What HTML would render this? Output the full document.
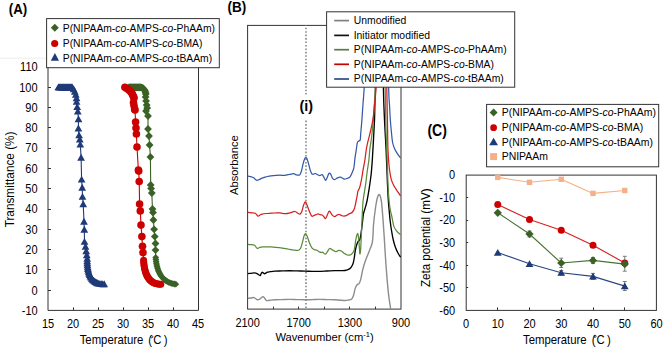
<!DOCTYPE html>
<html><head><meta charset="utf-8"><style>
html,body{margin:0;padding:0;background:#fff;}
body{width:669px;height:349px;overflow:hidden;font-family:"Liberation Sans", sans-serif;}
svg{display:block;}
</style></head><body>
<svg width="669" height="349" viewBox="0 0 669 349" font-family='"Liberation Sans", sans-serif'>
<rect width="669" height="349" fill="#fff"/>
<line x1="0.00" y1="58.20" x2="46.00" y2="58.20" stroke="#ececec" stroke-width="1" />
<path d="M48.0,66.90V310.4H198.5V66.90" fill="none" stroke="#333333" stroke-width="1"/>
<text transform="translate(37.60,314.80) scale(1,1.08)" font-size="11.0" text-anchor="end" font-weight="normal" fill="#000" >-10</text>
<line x1="48.00" y1="290.50" x2="51.00" y2="290.50" stroke="#333333" stroke-width="1" />
<text transform="translate(37.60,294.50) scale(1,1.08)" font-size="11.0" text-anchor="end" font-weight="normal" fill="#000" >0</text>
<line x1="48.00" y1="269.50" x2="51.00" y2="269.50" stroke="#333333" stroke-width="1" />
<text transform="translate(37.60,274.20) scale(1,1.08)" font-size="11.0" text-anchor="end" font-weight="normal" fill="#000" >10</text>
<line x1="48.00" y1="249.50" x2="51.00" y2="249.50" stroke="#333333" stroke-width="1" />
<text transform="translate(37.60,253.90) scale(1,1.08)" font-size="11.0" text-anchor="end" font-weight="normal" fill="#000" >20</text>
<line x1="48.00" y1="229.50" x2="51.00" y2="229.50" stroke="#333333" stroke-width="1" />
<text transform="translate(37.60,233.60) scale(1,1.08)" font-size="11.0" text-anchor="end" font-weight="normal" fill="#000" >30</text>
<line x1="48.00" y1="209.50" x2="51.00" y2="209.50" stroke="#333333" stroke-width="1" />
<text transform="translate(37.60,213.30) scale(1,1.08)" font-size="11.0" text-anchor="end" font-weight="normal" fill="#000" >40</text>
<line x1="48.00" y1="188.50" x2="51.00" y2="188.50" stroke="#333333" stroke-width="1" />
<text transform="translate(37.60,193.00) scale(1,1.08)" font-size="11.0" text-anchor="end" font-weight="normal" fill="#000" >50</text>
<line x1="48.00" y1="168.50" x2="51.00" y2="168.50" stroke="#333333" stroke-width="1" />
<text transform="translate(37.60,172.70) scale(1,1.08)" font-size="11.0" text-anchor="end" font-weight="normal" fill="#000" >60</text>
<line x1="48.00" y1="148.50" x2="51.00" y2="148.50" stroke="#333333" stroke-width="1" />
<text transform="translate(37.60,152.40) scale(1,1.08)" font-size="11.0" text-anchor="end" font-weight="normal" fill="#000" >70</text>
<line x1="48.00" y1="127.50" x2="51.00" y2="127.50" stroke="#333333" stroke-width="1" />
<text transform="translate(37.60,132.10) scale(1,1.08)" font-size="11.0" text-anchor="end" font-weight="normal" fill="#000" >80</text>
<line x1="48.00" y1="107.50" x2="51.00" y2="107.50" stroke="#333333" stroke-width="1" />
<text transform="translate(37.60,111.80) scale(1,1.08)" font-size="11.0" text-anchor="end" font-weight="normal" fill="#000" >90</text>
<line x1="48.00" y1="87.50" x2="51.00" y2="87.50" stroke="#333333" stroke-width="1" />
<text transform="translate(37.60,91.50) scale(1,1.08)" font-size="11.0" text-anchor="end" font-weight="normal" fill="#000" >100</text>
<line x1="48.00" y1="66.50" x2="51.00" y2="66.50" stroke="#333333" stroke-width="1" />
<text transform="translate(37.60,71.20) scale(1,1.08)" font-size="11.0" text-anchor="end" font-weight="normal" fill="#000" >110</text>
<text transform="translate(48.00,328.00) scale(1,1.08)" font-size="11.0" text-anchor="middle" font-weight="normal" fill="#000" >15</text>
<line x1="73.50" y1="310.40" x2="73.50" y2="307.40" stroke="#333333" stroke-width="1" />
<text transform="translate(73.00,328.00) scale(1,1.08)" font-size="11.0" text-anchor="middle" font-weight="normal" fill="#000" >20</text>
<line x1="98.50" y1="310.40" x2="98.50" y2="307.40" stroke="#333333" stroke-width="1" />
<text transform="translate(98.00,328.00) scale(1,1.08)" font-size="11.0" text-anchor="middle" font-weight="normal" fill="#000" >25</text>
<line x1="123.50" y1="310.40" x2="123.50" y2="307.40" stroke="#333333" stroke-width="1" />
<text transform="translate(123.00,328.00) scale(1,1.08)" font-size="11.0" text-anchor="middle" font-weight="normal" fill="#000" >30</text>
<line x1="148.50" y1="310.40" x2="148.50" y2="307.40" stroke="#333333" stroke-width="1" />
<text transform="translate(148.00,328.00) scale(1,1.08)" font-size="11.0" text-anchor="middle" font-weight="normal" fill="#000" >35</text>
<line x1="173.50" y1="310.40" x2="173.50" y2="307.40" stroke="#333333" stroke-width="1" />
<text transform="translate(173.00,328.00) scale(1,1.08)" font-size="11.0" text-anchor="middle" font-weight="normal" fill="#000" >40</text>
<text transform="translate(198.00,328.00) scale(1,1.08)" font-size="11.0" text-anchor="middle" font-weight="normal" fill="#000" >45</text>
<text transform="translate(14.00,179.40) rotate(-90) scale(1,1.08)" font-size="11.8" text-anchor="middle">Transmittance (%)</text>
<text transform="translate(79.7,344.0) scale(1,1.05)" font-size="11.35">Temperature<tspan dx="5.0">(</tspan><tspan dx="1.1">C</tspan><tspan dx="2.3">)</tspan></text>
<circle cx="151.70" cy="336.70" r="1.1" fill="none" stroke="#000" stroke-width="0.75"/>
<text transform="translate(8.80,14.20) scale(1,1.15)" font-size="13.3" text-anchor="start" font-weight="bold" fill="#000" >(A)</text>
<polyline points="58.4,87.2 59.0,87.2 59.6,87.2 60.2,87.2 60.8,87.2 61.4,87.2 62.0,87.2 62.6,87.2 63.2,87.2 63.8,87.2 64.4,87.2 65.0,87.2 65.6,87.2 66.2,87.2 66.8,87.2 67.4,87.2 68.0,87.2 68.6,87.2 69.2,87.2 69.8,87.2 70.4,87.2 71.0,87.2 71.6,87.2 72.2,87.2 73.6,89.0 74.8,91.5 75.8,94.5 76.5,98.0 76.6,101.7 77.2,106.8 77.8,111.3 78.5,119.1 78.4,128.3 79.1,135.2 79.8,139.3 80.3,144.4 81.1,157.6 81.6,179.4 82.2,187.5 82.5,196.7 83.2,204.0 84.0,221.6 84.3,229.6 84.5,241.7 85.5,246.5 86.2,251.0 86.8,255.0 87.2,258.6 87.2,261.0 87.3,263.1 87.4,265.1 87.7,267.0 87.9,268.8 88.3,270.4 88.7,272.0 89.2,273.5 89.7,274.9 90.3,276.2 91.0,277.4 91.8,278.5 92.6,279.5 93.4,280.4 94.4,281.2 95.4,281.9 96.4,282.5 97.6,283.0 98.8,283.4 100.0,283.7 101.3,283.9 102.7,284.0 104.2,284.0" fill="none" stroke="#1F3A78" stroke-width="1.1" stroke-linejoin="round" stroke-linecap="round" />
<path d="M58.40,83.47L62.25,90.37L54.55,90.37Z" fill="#1F3A78"/>
<path d="M59.00,83.47L62.85,90.37L55.15,90.37Z" fill="#1F3A78"/>
<path d="M59.60,83.47L63.45,90.37L55.75,90.37Z" fill="#1F3A78"/>
<path d="M60.20,83.47L64.05,90.37L56.35,90.37Z" fill="#1F3A78"/>
<path d="M60.80,83.47L64.65,90.37L56.95,90.37Z" fill="#1F3A78"/>
<path d="M61.40,83.47L65.25,90.37L57.55,90.37Z" fill="#1F3A78"/>
<path d="M62.00,83.47L65.85,90.37L58.15,90.37Z" fill="#1F3A78"/>
<path d="M62.60,83.47L66.45,90.37L58.75,90.37Z" fill="#1F3A78"/>
<path d="M63.20,83.47L67.05,90.37L59.35,90.37Z" fill="#1F3A78"/>
<path d="M63.80,83.47L67.65,90.37L59.95,90.37Z" fill="#1F3A78"/>
<path d="M64.40,83.47L68.25,90.37L60.55,90.37Z" fill="#1F3A78"/>
<path d="M65.00,83.47L68.85,90.37L61.15,90.37Z" fill="#1F3A78"/>
<path d="M65.60,83.47L69.45,90.37L61.75,90.37Z" fill="#1F3A78"/>
<path d="M66.20,83.47L70.05,90.37L62.35,90.37Z" fill="#1F3A78"/>
<path d="M66.80,83.47L70.65,90.37L62.95,90.37Z" fill="#1F3A78"/>
<path d="M67.40,83.47L71.25,90.37L63.55,90.37Z" fill="#1F3A78"/>
<path d="M68.00,83.47L71.85,90.37L64.15,90.37Z" fill="#1F3A78"/>
<path d="M68.60,83.47L72.45,90.37L64.75,90.37Z" fill="#1F3A78"/>
<path d="M69.20,83.47L73.05,90.37L65.35,90.37Z" fill="#1F3A78"/>
<path d="M69.80,83.47L73.65,90.37L65.95,90.37Z" fill="#1F3A78"/>
<path d="M70.40,83.47L74.25,90.37L66.55,90.37Z" fill="#1F3A78"/>
<path d="M71.00,83.47L74.85,90.37L67.15,90.37Z" fill="#1F3A78"/>
<path d="M71.60,83.47L75.45,90.37L67.75,90.37Z" fill="#1F3A78"/>
<path d="M72.20,83.47L76.05,90.37L68.35,90.37Z" fill="#1F3A78"/>
<path d="M73.60,85.27L77.45,92.17L69.75,92.17Z" fill="#1F3A78"/>
<path d="M74.80,87.77L78.65,94.67L70.95,94.67Z" fill="#1F3A78"/>
<path d="M75.80,90.77L79.65,97.67L71.95,97.67Z" fill="#1F3A78"/>
<path d="M76.50,94.27L80.35,101.17L72.65,101.17Z" fill="#1F3A78"/>
<path d="M76.60,97.97L80.45,104.87L72.75,104.87Z" fill="#1F3A78"/>
<path d="M77.20,103.07L81.05,109.97L73.35,109.97Z" fill="#1F3A78"/>
<path d="M77.80,107.57L81.65,114.47L73.95,114.47Z" fill="#1F3A78"/>
<path d="M78.50,115.37L82.35,122.27L74.65,122.27Z" fill="#1F3A78"/>
<path d="M78.40,124.57L82.25,131.47L74.55,131.47Z" fill="#1F3A78"/>
<path d="M79.10,131.47L82.95,138.37L75.25,138.37Z" fill="#1F3A78"/>
<path d="M79.80,135.57L83.65,142.47L75.95,142.47Z" fill="#1F3A78"/>
<path d="M80.30,140.67L84.15,147.57L76.45,147.57Z" fill="#1F3A78"/>
<path d="M81.10,153.87L84.95,160.77L77.25,160.77Z" fill="#1F3A78"/>
<path d="M81.60,175.67L85.45,182.57L77.75,182.57Z" fill="#1F3A78"/>
<path d="M82.20,183.77L86.05,190.67L78.35,190.67Z" fill="#1F3A78"/>
<path d="M82.50,192.97L86.35,199.87L78.65,199.87Z" fill="#1F3A78"/>
<path d="M83.20,200.27L87.05,207.17L79.35,207.17Z" fill="#1F3A78"/>
<path d="M84.00,217.87L87.85,224.77L80.15,224.77Z" fill="#1F3A78"/>
<path d="M84.30,225.87L88.15,232.77L80.45,232.77Z" fill="#1F3A78"/>
<path d="M84.50,237.97L88.35,244.87L80.65,244.87Z" fill="#1F3A78"/>
<path d="M85.50,242.77L89.35,249.67L81.65,249.67Z" fill="#1F3A78"/>
<path d="M86.20,247.27L90.05,254.17L82.35,254.17Z" fill="#1F3A78"/>
<path d="M86.80,251.27L90.65,258.17L82.95,258.17Z" fill="#1F3A78"/>
<path d="M87.20,254.87L91.05,261.77L83.35,261.77Z" fill="#1F3A78"/>
<path d="M87.20,257.27L91.05,264.17L83.35,264.17Z" fill="#1F3A78"/>
<path d="M87.29,259.36L91.14,266.26L83.44,266.26Z" fill="#1F3A78"/>
<path d="M87.44,261.35L91.29,268.25L83.59,268.25Z" fill="#1F3A78"/>
<path d="M87.66,263.24L91.51,270.14L83.81,270.14Z" fill="#1F3A78"/>
<path d="M87.94,265.03L91.79,271.93L84.09,271.93Z" fill="#1F3A78"/>
<path d="M88.29,266.72L92.14,273.62L84.44,273.62Z" fill="#1F3A78"/>
<path d="M88.70,268.31L92.55,275.21L84.85,275.21Z" fill="#1F3A78"/>
<path d="M89.18,269.80L93.03,276.70L85.33,276.70Z" fill="#1F3A78"/>
<path d="M89.73,271.19L93.58,278.09L85.88,278.09Z" fill="#1F3A78"/>
<path d="M90.34,272.48L94.19,279.38L86.49,279.38Z" fill="#1F3A78"/>
<path d="M91.01,273.68L94.86,280.58L87.16,280.58Z" fill="#1F3A78"/>
<path d="M91.75,274.77L95.60,281.67L87.90,281.67Z" fill="#1F3A78"/>
<path d="M92.56,275.77L96.41,282.67L88.71,282.67Z" fill="#1F3A78"/>
<path d="M93.43,276.67L97.28,283.57L89.58,283.57Z" fill="#1F3A78"/>
<path d="M94.36,277.46L98.21,284.36L90.51,284.36Z" fill="#1F3A78"/>
<path d="M95.36,278.16L99.21,285.06L91.51,285.06Z" fill="#1F3A78"/>
<path d="M96.43,278.76L100.28,285.66L92.58,285.66Z" fill="#1F3A78"/>
<path d="M97.56,279.26L101.41,286.16L93.71,286.16Z" fill="#1F3A78"/>
<path d="M98.76,279.66L102.61,286.56L94.91,286.56Z" fill="#1F3A78"/>
<path d="M100.02,279.96L103.87,286.86L96.17,286.86Z" fill="#1F3A78"/>
<path d="M101.35,280.17L105.20,287.07L97.50,287.07Z" fill="#1F3A78"/>
<path d="M102.74,280.27L106.59,287.17L98.89,287.17Z" fill="#1F3A78"/>
<path d="M104.20,280.27L108.05,287.17L100.35,287.17Z" fill="#1F3A78"/>
<polyline points="129.0,87.3 129.6,87.3 130.2,87.3 130.8,87.3 131.4,87.3 132.0,87.3 132.6,87.3 133.2,87.3 133.8,87.3 134.4,87.3 135.0,87.3 135.6,87.3 136.2,87.3 136.8,87.3 137.4,87.3 138.0,87.3 138.6,87.3 139.2,87.3 139.8,87.3 140.4,87.3 141.0,87.3 142.0,87.6 143.0,88.2 144.0,89.3 144.8,90.6 145.5,92.2 145.8,94.0 145.6,96.9 146.1,100.9 146.7,105.0 147.2,108.0 146.0,111.0 148.0,116.0 148.0,129.0 149.0,136.0 149.6,145.0 150.4,157.0 150.7,184.9 151.1,188.4 151.8,193.0 152.5,209.0 153.0,212.5 153.4,220.0 154.1,229.3 154.8,236.6 155.5,243.5 155.5,250.1 155.7,257.5 155.9,259.5 156.1,261.4 156.4,263.3 156.7,265.0 157.1,266.7 157.6,268.4 158.1,269.9 158.6,271.4 159.3,272.7 160.0,274.0 160.7,275.3 161.5,276.4 162.4,277.5 163.3,278.5 164.3,279.4 165.3,280.3 166.4,281.0 167.6,281.7 168.8,282.3 170.1,282.8 171.4,283.3 172.8,283.7 174.3,284.0 175.8,284.2" fill="none" stroke="#3B6226" stroke-width="1.1" stroke-linejoin="round" stroke-linecap="round" />
<polyline points="124.9,87.2 126.5,88.2 128.3,89.5 129.8,90.8 131.2,92.3 132.2,93.8 132.9,95.2 133.6,96.8 134.0,98.1 133.5,102.6 134.0,105.5 134.6,109.0 135.0,110.0 135.6,122.0 136.0,128.0 136.4,134.0 137.0,147.0 138.4,170.0 138.7,171.1 139.2,181.5 139.6,204.0 140.3,210.9 141.0,225.1 141.9,236.6 142.5,246.3 143.0,252.6 143.6,260.3 143.7,262.4 143.9,264.4 144.2,266.3 144.5,268.1 144.9,269.9 145.4,271.5 145.9,273.0 146.4,274.4 147.1,275.8 147.7,277.0 148.5,278.1 149.3,279.2 150.2,280.1 151.1,281.0 152.1,281.7 153.2,282.4 154.3,283.0 155.5,283.4 156.7,283.8 158.0,284.1 159.4,284.2 160.8,284.3" fill="none" stroke="#CC0000" stroke-width="1.1" stroke-linejoin="round" stroke-linecap="round" />
<path d="M129.00,83.40L132.90,87.30L129.00,91.20L125.10,87.30Z" fill="#3B6226"/>
<path d="M129.60,83.40L133.50,87.30L129.60,91.20L125.70,87.30Z" fill="#3B6226"/>
<path d="M130.20,83.40L134.10,87.30L130.20,91.20L126.30,87.30Z" fill="#3B6226"/>
<path d="M130.80,83.40L134.70,87.30L130.80,91.20L126.90,87.30Z" fill="#3B6226"/>
<path d="M131.40,83.40L135.30,87.30L131.40,91.20L127.50,87.30Z" fill="#3B6226"/>
<path d="M132.00,83.40L135.90,87.30L132.00,91.20L128.10,87.30Z" fill="#3B6226"/>
<path d="M132.60,83.40L136.50,87.30L132.60,91.20L128.70,87.30Z" fill="#3B6226"/>
<path d="M133.20,83.40L137.10,87.30L133.20,91.20L129.30,87.30Z" fill="#3B6226"/>
<path d="M133.80,83.40L137.70,87.30L133.80,91.20L129.90,87.30Z" fill="#3B6226"/>
<path d="M134.40,83.40L138.30,87.30L134.40,91.20L130.50,87.30Z" fill="#3B6226"/>
<path d="M135.00,83.40L138.90,87.30L135.00,91.20L131.10,87.30Z" fill="#3B6226"/>
<path d="M135.60,83.40L139.50,87.30L135.60,91.20L131.70,87.30Z" fill="#3B6226"/>
<path d="M136.20,83.40L140.10,87.30L136.20,91.20L132.30,87.30Z" fill="#3B6226"/>
<path d="M136.80,83.40L140.70,87.30L136.80,91.20L132.90,87.30Z" fill="#3B6226"/>
<path d="M137.40,83.40L141.30,87.30L137.40,91.20L133.50,87.30Z" fill="#3B6226"/>
<path d="M138.00,83.40L141.90,87.30L138.00,91.20L134.10,87.30Z" fill="#3B6226"/>
<path d="M138.60,83.40L142.50,87.30L138.60,91.20L134.70,87.30Z" fill="#3B6226"/>
<path d="M139.20,83.40L143.10,87.30L139.20,91.20L135.30,87.30Z" fill="#3B6226"/>
<path d="M139.80,83.40L143.70,87.30L139.80,91.20L135.90,87.30Z" fill="#3B6226"/>
<path d="M140.40,83.40L144.30,87.30L140.40,91.20L136.50,87.30Z" fill="#3B6226"/>
<path d="M141.00,83.40L144.90,87.30L141.00,91.20L137.10,87.30Z" fill="#3B6226"/>
<path d="M142.00,83.70L145.90,87.60L142.00,91.50L138.10,87.60Z" fill="#3B6226"/>
<path d="M143.00,84.30L146.90,88.20L143.00,92.10L139.10,88.20Z" fill="#3B6226"/>
<path d="M144.00,85.40L147.90,89.30L144.00,93.20L140.10,89.30Z" fill="#3B6226"/>
<path d="M144.80,86.70L148.70,90.60L144.80,94.50L140.90,90.60Z" fill="#3B6226"/>
<path d="M145.50,88.30L149.40,92.20L145.50,96.10L141.60,92.20Z" fill="#3B6226"/>
<path d="M145.80,90.10L149.70,94.00L145.80,97.90L141.90,94.00Z" fill="#3B6226"/>
<path d="M145.60,93.00L149.50,96.90L145.60,100.80L141.70,96.90Z" fill="#3B6226"/>
<path d="M146.10,97.00L150.00,100.90L146.10,104.80L142.20,100.90Z" fill="#3B6226"/>
<path d="M146.70,101.10L150.60,105.00L146.70,108.90L142.80,105.00Z" fill="#3B6226"/>
<path d="M147.20,104.10L151.10,108.00L147.20,111.90L143.30,108.00Z" fill="#3B6226"/>
<path d="M146.00,107.10L149.90,111.00L146.00,114.90L142.10,111.00Z" fill="#3B6226"/>
<path d="M148.00,112.10L151.90,116.00L148.00,119.90L144.10,116.00Z" fill="#3B6226"/>
<path d="M148.00,125.10L151.90,129.00L148.00,132.90L144.10,129.00Z" fill="#3B6226"/>
<path d="M149.00,132.10L152.90,136.00L149.00,139.90L145.10,136.00Z" fill="#3B6226"/>
<path d="M149.60,141.10L153.50,145.00L149.60,148.90L145.70,145.00Z" fill="#3B6226"/>
<path d="M150.40,153.10L154.30,157.00L150.40,160.90L146.50,157.00Z" fill="#3B6226"/>
<path d="M150.70,181.00L154.60,184.90L150.70,188.80L146.80,184.90Z" fill="#3B6226"/>
<path d="M151.10,184.50L155.00,188.40L151.10,192.30L147.20,188.40Z" fill="#3B6226"/>
<path d="M151.80,189.10L155.70,193.00L151.80,196.90L147.90,193.00Z" fill="#3B6226"/>
<path d="M152.50,205.10L156.40,209.00L152.50,212.90L148.60,209.00Z" fill="#3B6226"/>
<path d="M153.00,208.60L156.90,212.50L153.00,216.40L149.10,212.50Z" fill="#3B6226"/>
<path d="M153.40,216.10L157.30,220.00L153.40,223.90L149.50,220.00Z" fill="#3B6226"/>
<path d="M154.10,225.40L158.00,229.30L154.10,233.20L150.20,229.30Z" fill="#3B6226"/>
<path d="M154.80,232.70L158.70,236.60L154.80,240.50L150.90,236.60Z" fill="#3B6226"/>
<path d="M155.50,239.60L159.40,243.50L155.50,247.40L151.60,243.50Z" fill="#3B6226"/>
<path d="M155.50,246.20L159.40,250.10L155.50,254.00L151.60,250.10Z" fill="#3B6226"/>
<path d="M155.70,254.10L159.10,257.50L155.70,260.90L152.30,257.50Z" fill="#3B6226"/>
<path d="M155.86,256.10L159.26,259.50L155.86,262.90L152.46,259.50Z" fill="#3B6226"/>
<path d="M156.08,258.03L159.48,261.43L156.08,264.83L152.68,261.43Z" fill="#3B6226"/>
<path d="M156.36,259.88L159.76,263.28L156.36,266.68L152.96,263.28Z" fill="#3B6226"/>
<path d="M156.70,261.65L160.10,265.05L156.70,268.45L153.30,265.05Z" fill="#3B6226"/>
<path d="M157.10,263.34L160.50,266.74L157.10,270.14L153.70,266.74Z" fill="#3B6226"/>
<path d="M157.56,264.96L160.96,268.36L157.56,271.76L154.16,268.36Z" fill="#3B6226"/>
<path d="M158.07,266.49L161.47,269.89L158.07,273.29L154.67,269.89Z" fill="#3B6226"/>
<path d="M158.64,267.96L162.04,271.36L158.64,274.76L155.24,271.36Z" fill="#3B6226"/>
<path d="M159.28,269.34L162.68,272.74L159.28,276.14L155.88,272.74Z" fill="#3B6226"/>
<path d="M159.97,270.65L163.37,274.05L159.97,277.45L156.57,274.05Z" fill="#3B6226"/>
<path d="M160.72,271.87L164.12,275.27L160.72,278.67L157.32,275.27Z" fill="#3B6226"/>
<path d="M161.53,273.03L164.93,276.43L161.53,279.82L158.12,276.43Z" fill="#3B6226"/>
<path d="M162.39,274.10L165.79,277.50L162.39,280.90L158.99,277.50Z" fill="#3B6226"/>
<path d="M163.32,275.10L166.72,278.50L163.32,281.90L159.92,278.50Z" fill="#3B6226"/>
<path d="M164.30,276.01L167.70,279.41L164.30,282.81L160.90,279.41Z" fill="#3B6226"/>
<path d="M165.34,276.86L168.74,280.26L165.34,283.66L161.94,280.26Z" fill="#3B6226"/>
<path d="M166.45,277.62L169.85,281.02L166.45,284.42L163.05,281.02Z" fill="#3B6226"/>
<path d="M167.61,278.31L171.01,281.71L167.61,285.11L164.21,281.71Z" fill="#3B6226"/>
<path d="M168.83,278.92L172.23,282.32L168.83,285.72L165.43,282.32Z" fill="#3B6226"/>
<path d="M170.10,279.45L173.50,282.85L170.10,286.25L166.70,282.85Z" fill="#3B6226"/>
<path d="M171.44,279.90L174.84,283.30L171.44,286.70L168.04,283.30Z" fill="#3B6226"/>
<path d="M172.83,280.28L176.23,283.68L172.83,287.08L169.43,283.68Z" fill="#3B6226"/>
<path d="M174.29,280.58L177.69,283.98L174.29,287.38L170.89,283.98Z" fill="#3B6226"/>
<path d="M175.80,280.80L179.20,284.20L175.80,287.60L172.40,284.20Z" fill="#3B6226"/>
<circle cx="124.90" cy="87.20" r="3.8" fill="#CC0000"/>
<circle cx="126.50" cy="88.20" r="3.8" fill="#CC0000"/>
<circle cx="128.30" cy="89.50" r="3.8" fill="#CC0000"/>
<circle cx="129.80" cy="90.80" r="3.8" fill="#CC0000"/>
<circle cx="131.20" cy="92.30" r="3.8" fill="#CC0000"/>
<circle cx="132.20" cy="93.80" r="3.8" fill="#CC0000"/>
<circle cx="132.90" cy="95.20" r="3.8" fill="#CC0000"/>
<circle cx="133.60" cy="96.80" r="3.8" fill="#CC0000"/>
<circle cx="134.00" cy="98.10" r="3.8" fill="#CC0000"/>
<circle cx="133.50" cy="102.60" r="3.8" fill="#CC0000"/>
<circle cx="134.00" cy="105.50" r="3.8" fill="#CC0000"/>
<circle cx="134.60" cy="109.00" r="3.8" fill="#CC0000"/>
<circle cx="135.00" cy="110.00" r="3.8" fill="#CC0000"/>
<circle cx="135.60" cy="122.00" r="3.8" fill="#CC0000"/>
<circle cx="136.00" cy="128.00" r="3.8" fill="#CC0000"/>
<circle cx="136.40" cy="134.00" r="3.8" fill="#CC0000"/>
<circle cx="137.00" cy="147.00" r="3.8" fill="#CC0000"/>
<circle cx="138.40" cy="170.00" r="3.8" fill="#CC0000"/>
<circle cx="138.70" cy="171.10" r="3.8" fill="#CC0000"/>
<circle cx="139.20" cy="181.50" r="3.8" fill="#CC0000"/>
<circle cx="139.60" cy="204.00" r="3.8" fill="#CC0000"/>
<circle cx="140.30" cy="210.90" r="3.8" fill="#CC0000"/>
<circle cx="141.00" cy="225.10" r="3.8" fill="#CC0000"/>
<circle cx="141.90" cy="236.60" r="3.8" fill="#CC0000"/>
<circle cx="142.50" cy="246.30" r="3.8" fill="#CC0000"/>
<circle cx="143.00" cy="252.60" r="3.8" fill="#CC0000"/>
<circle cx="143.60" cy="260.30" r="3.5" fill="#CC0000"/>
<circle cx="143.74" cy="262.41" r="3.5" fill="#CC0000"/>
<circle cx="143.94" cy="264.42" r="3.5" fill="#CC0000"/>
<circle cx="144.20" cy="266.33" r="3.5" fill="#CC0000"/>
<circle cx="144.53" cy="268.14" r="3.5" fill="#CC0000"/>
<circle cx="144.91" cy="269.86" r="3.5" fill="#CC0000"/>
<circle cx="145.36" cy="271.49" r="3.5" fill="#CC0000"/>
<circle cx="145.86" cy="273.01" r="3.5" fill="#CC0000"/>
<circle cx="146.43" cy="274.44" r="3.5" fill="#CC0000"/>
<circle cx="147.06" cy="275.77" r="3.5" fill="#CC0000"/>
<circle cx="147.75" cy="277.01" r="3.5" fill="#CC0000"/>
<circle cx="148.50" cy="278.15" r="3.5" fill="#CC0000"/>
<circle cx="149.31" cy="279.19" r="3.5" fill="#CC0000"/>
<circle cx="150.19" cy="280.14" r="3.5" fill="#CC0000"/>
<circle cx="151.12" cy="280.99" r="3.5" fill="#CC0000"/>
<circle cx="152.12" cy="281.74" r="3.5" fill="#CC0000"/>
<circle cx="153.17" cy="282.40" r="3.5" fill="#CC0000"/>
<circle cx="154.29" cy="282.95" r="3.5" fill="#CC0000"/>
<circle cx="155.47" cy="283.42" r="3.5" fill="#CC0000"/>
<circle cx="156.71" cy="283.78" r="3.5" fill="#CC0000"/>
<circle cx="158.01" cy="284.05" r="3.5" fill="#CC0000"/>
<circle cx="159.38" cy="284.22" r="3.5" fill="#CC0000"/>
<circle cx="160.80" cy="284.30" r="3.5" fill="#CC0000"/>
<rect x="46.6" y="18.6" width="172.7" height="49.1" fill="#fff" stroke="#333333" stroke-width="1"/>
<path d="M54.80,23.80L58.80,27.80L54.80,31.80L50.80,27.80Z" fill="#3B6226"/>
<circle cx="54.70" cy="43.50" r="3.6" fill="#CC0000"/>
<path d="M54.90,52.93L59.00,60.83L50.80,60.83Z" fill="#1F3A78"/>
<text transform="translate(62.8,31.6) scale(1,1.04)" font-size="10.33">P(NIPAAm-<tspan font-style="italic">co</tspan>-AMPS-<tspan font-style="italic">co</tspan>-PhAAm)</text>
<text transform="translate(62.8,47.1) scale(1,1.04)" font-size="10.33">P(NIPAAm-<tspan font-style="italic">co</tspan>-AMPS-<tspan font-style="italic">co</tspan>-BMA)</text>
<text transform="translate(62.8,62.1) scale(1,1.04)" font-size="10.33">P(NIPAAm-<tspan font-style="italic">co</tspan>-AMPS-<tspan font-style="italic">co</tspan>-tBAAm)</text>
<rect x="247.6" y="25.4" width="153.4" height="283.7" fill="none" stroke="#333333" stroke-width="1"/>
<line x1="273.50" y1="309.10" x2="273.50" y2="306.60" stroke="#333333" stroke-width="1" />
<line x1="298.50" y1="309.10" x2="298.50" y2="306.60" stroke="#333333" stroke-width="1" />
<line x1="324.50" y1="309.10" x2="324.50" y2="306.60" stroke="#333333" stroke-width="1" />
<line x1="349.50" y1="309.10" x2="349.50" y2="306.60" stroke="#333333" stroke-width="1" />
<line x1="375.50" y1="309.10" x2="375.50" y2="306.60" stroke="#333333" stroke-width="1" />
<text transform="translate(247.60,327.30) scale(1,1.08)" font-size="11.0" text-anchor="middle" font-weight="normal" fill="#000" >2100</text>
<text transform="translate(298.73,327.30) scale(1,1.08)" font-size="11.0" text-anchor="middle" font-weight="normal" fill="#000" >1700</text>
<text transform="translate(349.87,327.30) scale(1,1.08)" font-size="11.0" text-anchor="middle" font-weight="normal" fill="#000" >1300</text>
<text transform="translate(401.00,327.30) scale(1,1.08)" font-size="11.0" text-anchor="middle" font-weight="normal" fill="#000" >900</text>
<line x1="306.00" y1="25.40" x2="306.00" y2="309.10" stroke="#8c8c8c" stroke-width="1.7" stroke-dasharray="1.6,1.84" stroke-dashoffset="1.1"/>
<clipPath id="cb"><rect x="247.6" y="25.4" width="153.4" height="283.7"/></clipPath>
<g clip-path="url(#cb)">
<path d="M247.60,298.30C248.17,298.25 249.93,298.12 251.00,298.00C252.07,297.88 252.88,297.30 254.00,297.60C255.12,297.90 256.62,299.65 257.70,299.80C258.78,299.95 259.62,299.03 260.50,298.50C261.38,297.97 262.28,296.60 263.00,296.60C263.72,296.60 264.18,297.83 264.80,298.50C265.42,299.17 265.83,300.32 266.70,300.60C267.57,300.88 268.63,300.33 270.00,300.20C271.37,300.07 272.90,299.90 274.90,299.80C276.90,299.70 279.52,299.67 282.00,299.60C284.48,299.53 287.30,299.40 289.80,299.40C292.30,299.40 294.50,299.53 297.00,299.60C299.50,299.67 302.30,299.80 304.80,299.80C307.30,299.80 309.52,299.67 312.00,299.60C314.48,299.53 317.20,299.40 319.70,299.40C322.20,299.40 324.50,299.53 327.00,299.60C329.50,299.67 332.53,299.70 334.70,299.80C336.87,299.90 338.28,300.08 340.00,300.20C341.72,300.32 343.58,300.53 345.00,300.50C346.42,300.47 347.42,300.22 348.50,300.00C349.58,299.78 350.68,299.90 351.50,299.20C352.32,298.50 352.78,297.60 353.40,295.80C354.02,294.00 354.58,290.25 355.20,288.40C355.82,286.55 356.47,285.48 357.10,284.70C357.73,283.92 358.38,284.63 359.00,283.70C359.62,282.77 360.18,281.42 360.80,279.10C361.42,276.78 361.92,272.90 362.70,269.80C363.48,266.70 364.42,263.60 365.50,260.50C366.58,257.40 368.12,254.00 369.20,251.20C370.28,248.40 371.38,246.07 372.00,243.70C372.62,241.33 372.63,240.33 372.90,237.00C373.17,233.67 373.13,228.78 373.60,223.70C374.07,218.62 375.08,210.78 375.70,206.50C376.32,202.22 376.77,199.98 377.30,198.00C377.83,196.02 378.42,194.93 378.90,194.60C379.38,194.27 379.77,194.73 380.20,196.00C380.63,197.27 381.05,198.53 381.50,202.20C381.95,205.87 382.47,212.53 382.90,218.00C383.33,223.47 383.72,229.10 384.10,235.00C384.48,240.90 384.73,246.42 385.20,253.40C385.67,260.38 386.32,269.87 386.90,276.90C387.48,283.93 388.13,290.67 388.70,295.60C389.27,300.53 389.92,303.77 390.30,306.50C390.68,309.23 390.88,311.08 391.00,312.00" fill="none" stroke="#8C8C8C" stroke-width="1.4" stroke-linejoin="round"/>
<path d="M247.60,273.70C248.17,273.63 249.82,273.43 251.00,273.30C252.18,273.17 253.70,272.85 254.70,272.90C255.70,272.95 256.12,273.15 257.00,273.60C257.88,274.05 259.33,275.53 260.00,275.60C260.67,275.67 260.63,274.57 261.00,274.00C261.37,273.43 261.63,272.25 262.20,272.20C262.77,272.15 263.53,273.70 264.40,273.70C265.27,273.70 266.47,272.53 267.40,272.20C268.33,271.87 268.75,271.88 270.00,271.70C271.25,271.52 272.90,271.23 274.90,271.10C276.90,270.97 279.52,270.97 282.00,270.90C284.48,270.83 287.30,270.70 289.80,270.70C292.30,270.70 294.50,270.83 297.00,270.90C299.50,270.97 302.30,271.03 304.80,271.10C307.30,271.17 309.52,271.25 312.00,271.30C314.48,271.35 317.20,271.45 319.70,271.40C322.20,271.35 324.50,271.12 327.00,271.00C329.50,270.88 332.53,270.77 334.70,270.70C336.87,270.63 338.28,270.63 340.00,270.60C341.72,270.57 343.67,270.67 345.00,270.50C346.33,270.33 347.07,270.03 348.00,269.60C348.93,269.17 349.90,268.58 350.60,267.90C351.30,267.22 351.73,266.43 352.20,265.50C352.67,264.57 353.03,263.72 353.40,262.30C353.77,260.88 354.10,258.85 354.40,257.00C354.70,255.15 354.90,252.95 355.20,251.20C355.50,249.45 355.88,247.75 356.20,246.50C356.52,245.25 356.72,244.62 357.10,243.70C357.48,242.78 358.07,241.62 358.50,241.00C358.93,240.38 359.30,241.10 359.70,240.00C360.10,238.90 360.45,237.25 360.90,234.40C361.35,231.55 361.97,226.35 362.40,222.90C362.83,219.45 362.98,216.37 363.50,213.70C364.02,211.03 364.88,209.18 365.50,206.90C366.12,204.62 366.53,203.43 367.20,200.00C367.87,196.57 368.83,190.68 369.50,186.30C370.17,181.92 370.73,178.08 371.20,173.70C371.67,169.32 371.95,165.13 372.30,160.00C372.65,154.87 372.93,149.57 373.30,142.90C373.67,136.23 374.22,127.15 374.50,120.00C374.78,112.85 374.83,105.27 375.00,100.00C375.17,94.73 375.17,101.73 375.50,88.40C375.83,75.07 376.75,31.40 377.00,20.00" fill="none" stroke="#000" stroke-width="1.35" stroke-linejoin="round"/>
<path d="M382.50,20.00C382.65,31.40 383.07,71.73 383.40,88.40C383.73,105.07 384.05,109.73 384.50,120.00C384.95,130.27 385.60,139.25 386.10,150.00C386.60,160.75 387.13,176.17 387.50,184.50C387.87,192.83 388.03,195.78 388.30,200.00C388.57,204.22 388.77,206.13 389.10,209.80C389.43,213.47 389.87,218.37 390.30,222.00C390.73,225.63 391.18,228.52 391.70,231.60C392.22,234.68 392.77,237.87 393.40,240.50C394.03,243.13 394.73,245.32 395.50,247.40C396.27,249.48 397.15,251.37 398.00,253.00C398.85,254.63 400.17,256.50 400.60,257.20" fill="none" stroke="#000" stroke-width="1.35" stroke-linejoin="round"/>
<path d="M247.60,244.30C248.00,244.35 248.85,244.45 250.00,244.60C251.15,244.75 253.33,244.58 254.50,245.20C255.67,245.82 256.17,247.92 257.00,248.30C257.83,248.68 258.63,247.73 259.50,247.50C260.37,247.27 261.12,247.02 262.20,246.90C263.28,246.78 264.57,246.80 266.00,246.80C267.43,246.80 269.30,246.82 270.80,246.90C272.30,246.98 273.57,247.17 275.00,247.30C276.43,247.43 277.90,247.52 279.40,247.70C280.90,247.88 282.57,248.18 284.00,248.40C285.43,248.62 286.67,248.77 288.00,249.00C289.33,249.23 290.57,249.58 292.00,249.80C293.43,250.02 295.43,250.27 296.60,250.30C297.77,250.33 298.32,250.38 299.00,250.00C299.68,249.62 300.13,249.25 300.70,248.00C301.27,246.75 301.87,244.42 302.40,242.50C302.93,240.58 303.47,237.88 303.90,236.50C304.33,235.12 304.68,234.65 305.00,234.20C305.32,233.75 305.42,233.42 305.80,233.80C306.18,234.18 306.67,234.92 307.30,236.50C307.93,238.08 308.83,241.40 309.60,243.30C310.37,245.20 311.13,246.85 311.90,247.90C312.67,248.95 313.35,249.22 314.20,249.60C315.05,249.98 316.15,249.82 317.00,250.20C317.85,250.58 318.53,251.52 319.30,251.90C320.07,252.28 321.02,252.43 321.60,252.50C322.18,252.57 322.13,252.02 322.80,252.30C323.47,252.58 324.75,254.45 325.60,254.20C326.45,253.95 327.23,251.75 327.90,250.80C328.57,249.85 328.93,248.70 329.60,248.50C330.27,248.30 331.03,249.13 331.90,249.60C332.77,250.07 334.03,250.97 334.80,251.30C335.57,251.63 335.83,251.75 336.50,251.60C337.17,251.45 337.93,250.45 338.80,250.40C339.67,250.35 340.75,250.77 341.70,251.30C342.65,251.83 343.55,252.98 344.50,253.60C345.45,254.22 346.45,254.77 347.40,255.00C348.35,255.23 349.35,255.32 350.20,255.00C351.05,254.68 351.82,254.00 352.50,253.10C353.18,252.20 353.72,252.00 354.30,249.60C354.88,247.20 355.47,241.37 356.00,238.70C356.53,236.03 357.12,234.07 357.50,233.60C357.88,233.13 358.03,234.28 358.30,235.90C358.57,237.52 358.85,240.35 359.10,243.30C359.35,246.25 359.55,252.48 359.80,253.60C360.05,254.72 360.37,252.60 360.60,250.00C360.83,247.40 361.02,241.67 361.20,238.00C361.38,234.33 361.50,232.42 361.70,228.00C361.90,223.58 362.15,216.17 362.40,211.50C362.65,206.83 362.68,204.38 363.20,200.00C363.72,195.62 364.83,189.95 365.50,185.20C366.17,180.45 366.63,175.70 367.20,171.50C367.77,167.30 368.45,163.82 368.90,160.00C369.35,156.18 369.45,152.40 369.90,148.60C370.35,144.80 371.03,141.97 371.60,137.20C372.17,132.43 372.85,125.37 373.30,120.00C373.75,114.63 373.97,110.27 374.30,105.00C374.63,99.73 374.85,97.57 375.30,88.40C375.75,79.23 376.47,61.40 377.00,50.00C377.53,38.60 378.25,25.00 378.50,20.00" fill="none" stroke="#5A8A3A" stroke-width="1.25" stroke-linejoin="round"/>
<path d="M384.00,20.00C384.20,31.40 384.87,70.07 385.20,88.40C385.53,106.73 385.73,119.73 386.00,130.00C386.27,140.27 386.47,140.92 386.80,150.00C387.13,159.08 387.63,176.17 388.00,184.50C388.37,192.83 388.62,195.78 389.00,200.00C389.38,204.22 389.88,207.30 390.30,209.80C390.72,212.30 391.13,213.30 391.50,215.00C391.87,216.70 392.13,218.18 392.50,220.00C392.87,221.82 393.20,224.32 393.70,225.90C394.20,227.48 394.78,228.40 395.50,229.50C396.22,230.60 397.15,231.63 398.00,232.50C398.85,233.37 400.17,234.33 400.60,234.70" fill="none" stroke="#5A8A3A" stroke-width="1.25" stroke-linejoin="round"/>
<path d="M247.60,212.40C248.17,212.47 249.72,212.67 251.00,212.80C252.28,212.93 254.15,212.63 255.30,213.20C256.45,213.77 257.12,215.90 257.90,216.20C258.68,216.50 259.28,215.35 260.00,215.00C260.72,214.65 261.20,214.35 262.20,214.10C263.20,213.85 264.57,213.65 266.00,213.50C267.43,213.35 269.30,213.28 270.80,213.20C272.30,213.12 273.57,213.05 275.00,213.00C276.43,212.95 278.07,212.82 279.40,212.90C280.73,212.98 281.85,213.37 283.00,213.50C284.15,213.63 285.13,213.82 286.30,213.70C287.47,213.58 288.57,213.17 290.00,212.80C291.43,212.43 293.65,211.47 294.90,211.50C296.15,211.53 296.65,212.57 297.50,213.00C298.35,213.43 299.28,214.35 300.00,214.10C300.72,213.85 301.25,212.85 301.80,211.50C302.35,210.15 302.83,207.45 303.30,206.00C303.77,204.55 304.22,203.47 304.60,202.80C304.98,202.13 305.25,201.77 305.60,202.00C305.95,202.23 306.23,203.08 306.70,204.20C307.17,205.32 307.82,207.18 308.40,208.70C308.98,210.22 309.62,212.05 310.20,213.30C310.78,214.55 311.23,215.85 311.90,216.20C312.57,216.55 313.43,215.68 314.20,215.40C314.97,215.12 315.83,214.75 316.50,214.50C317.17,214.25 317.63,213.87 318.20,213.90C318.77,213.93 319.23,214.52 319.90,214.70C320.57,214.88 321.53,214.65 322.20,215.00C322.87,215.35 323.33,216.22 323.90,216.80C324.47,217.38 325.03,218.80 325.60,218.50C326.17,218.20 326.72,216.20 327.30,215.00C327.88,213.80 328.52,211.67 329.10,211.30C329.68,210.93 330.23,212.12 330.80,212.80C331.37,213.48 331.83,214.78 332.50,215.40C333.17,216.02 334.03,216.57 334.80,216.50C335.57,216.43 336.33,215.33 337.10,215.00C337.87,214.67 338.63,214.40 339.40,214.50C340.17,214.60 340.95,215.32 341.70,215.60C342.45,215.88 343.05,216.23 343.90,216.20C344.75,216.17 345.93,215.78 346.80,215.40C347.67,215.02 348.18,214.42 349.10,213.90C350.02,213.38 351.38,213.28 352.30,212.30C353.22,211.32 353.93,210.05 354.60,208.00C355.27,205.95 355.87,202.08 356.30,200.00C356.73,197.92 356.92,197.02 357.20,195.50C357.48,193.98 357.58,192.23 358.00,190.90C358.42,189.57 359.12,189.40 359.70,187.50C360.28,185.60 360.92,182.55 361.50,179.50C362.08,176.45 362.63,172.45 363.20,169.20C363.77,165.95 364.40,163.20 364.90,160.00C365.40,156.80 365.75,152.85 366.20,150.00C366.65,147.15 366.98,145.62 367.60,142.90C368.22,140.18 369.03,137.52 369.90,133.70C370.77,129.88 372.03,124.78 372.80,120.00C373.57,115.22 373.97,110.27 374.50,105.00C375.03,99.73 375.42,97.57 376.00,88.40C376.58,79.23 377.42,61.40 378.00,50.00C378.58,38.60 379.25,25.00 379.50,20.00" fill="none" stroke="#D42020" stroke-width="1.25" stroke-linejoin="round"/>
<path d="M385.50,20.00C385.72,31.40 386.45,70.07 386.80,88.40C387.15,106.73 387.40,119.73 387.60,130.00C387.80,140.27 387.75,143.98 388.00,150.00C388.25,156.02 388.73,162.10 389.10,166.10C389.47,170.10 389.82,171.70 390.20,174.00C390.58,176.30 390.85,178.07 391.40,179.90C391.95,181.73 392.73,183.47 393.50,185.00C394.27,186.53 394.82,187.27 396.00,189.10C397.18,190.93 399.83,194.85 400.60,196.00" fill="none" stroke="#D42020" stroke-width="1.25" stroke-linejoin="round"/>
<path d="M247.60,176.10C248.00,176.17 249.27,176.35 250.00,176.50C250.73,176.65 251.33,176.75 252.00,177.00C252.67,177.25 253.42,177.58 254.00,178.00C254.58,178.42 255.00,179.10 255.50,179.50C256.00,179.90 256.42,180.38 257.00,180.40C257.58,180.42 258.13,179.97 259.00,179.60C259.87,179.23 261.20,178.60 262.20,178.20C263.20,177.80 264.13,177.48 265.00,177.20C265.87,176.92 266.40,176.73 267.40,176.50C268.40,176.27 269.57,176.00 271.00,175.80C272.43,175.60 274.50,175.40 276.00,175.30C277.50,175.20 278.57,175.20 280.00,175.20C281.43,175.20 283.05,175.42 284.60,175.30C286.15,175.18 287.80,174.78 289.30,174.50C290.80,174.22 292.45,173.53 293.60,173.60C294.75,173.67 295.20,174.68 296.20,174.90C297.20,175.12 298.75,175.47 299.60,174.90C300.45,174.33 300.72,173.35 301.30,171.50C301.88,169.65 302.52,165.95 303.10,163.80C303.68,161.65 304.35,159.68 304.80,158.60C305.25,157.52 305.45,157.30 305.80,157.30C306.15,157.30 306.43,157.52 306.90,158.60C307.37,159.68 308.00,161.73 308.60,163.80C309.20,165.87 309.87,169.25 310.50,171.00C311.13,172.75 311.60,173.88 312.40,174.30C313.20,174.72 314.43,173.43 315.30,173.50C316.17,173.57 316.83,174.37 317.60,174.70C318.37,175.03 319.13,175.50 319.90,175.50C320.67,175.50 321.53,174.42 322.20,174.70C322.87,174.98 323.33,176.25 323.90,177.20C324.47,178.15 325.03,180.40 325.60,180.40C326.17,180.40 326.72,178.40 327.30,177.20C327.88,176.00 328.52,173.68 329.10,173.20C329.68,172.72 330.23,173.45 330.80,174.30C331.37,175.15 331.83,177.43 332.50,178.30C333.17,179.17 333.95,179.58 334.80,179.50C335.65,179.42 336.65,178.18 337.60,177.80C338.55,177.42 339.63,177.12 340.50,177.20C341.37,177.28 342.13,177.97 342.80,178.30C343.47,178.63 343.73,179.20 344.50,179.20C345.27,179.20 346.53,178.63 347.40,178.30C348.27,177.97 349.08,177.77 349.70,177.20C350.32,176.63 350.58,175.93 351.10,174.90C351.62,173.87 352.32,172.32 352.80,171.00C353.28,169.68 353.63,169.20 354.00,167.00C354.37,164.80 354.65,160.48 355.00,157.80C355.35,155.12 355.72,153.38 356.10,150.90C356.48,148.42 356.92,144.52 357.30,142.90C357.68,141.28 357.92,141.68 358.40,141.20C358.88,140.72 359.82,141.25 360.20,140.00C360.58,138.75 360.42,137.03 360.70,133.70C360.98,130.37 361.52,124.95 361.90,120.00C362.28,115.05 362.63,109.13 363.00,104.00C363.37,98.87 363.68,96.53 364.10,89.20C364.52,81.87 365.02,71.53 365.50,60.00C365.98,48.47 366.75,26.67 367.00,20.00" fill="none" stroke="#3459A8" stroke-width="1.25" stroke-linejoin="round"/>
<path d="M387.50,20.00C387.70,31.40 388.37,74.23 388.70,88.40C389.03,102.57 389.23,99.82 389.50,105.00C389.77,110.18 389.98,115.00 390.30,119.50C390.62,124.00 391.02,128.17 391.40,132.00C391.78,135.83 392.08,139.75 392.60,142.50C393.12,145.25 393.73,146.68 394.50,148.50C395.27,150.32 396.18,151.82 397.20,153.40C398.22,154.98 400.03,157.23 400.60,158.00" fill="none" stroke="#3459A8" stroke-width="1.25" stroke-linejoin="round"/>
</g>
<rect x="298" y="94.5" width="16" height="25" fill="#fff"/>
<text transform="translate(306.30,111.30) scale(1,1.0)" font-size="14.4" text-anchor="middle" font-weight="bold" fill="#000" >(i)</text>
<text transform="translate(237.90,165.10) rotate(-90) scale(1,1.0)" font-size="11.2" text-anchor="middle">Absorbance</text>
<text transform="translate(275.4,341.3) scale(1,1.04)" font-size="11.2">Wavenumber (cm<tspan font-size="7.5" dy="-4">-1</tspan><tspan dy="4">)</tspan></text>
<text transform="translate(227.40,11.70) scale(1,1.15)" font-size="13.5" text-anchor="start" font-weight="bold" fill="#000" >(B)</text>
<rect x="326.6" y="11.8" width="188.1" height="75.4" fill="#fff" stroke="#333333" stroke-width="1"/>
<line x1="334.20" y1="20.60" x2="349.00" y2="20.60" stroke="#808080" stroke-width="1.7" />
<line x1="334.20" y1="35.40" x2="349.00" y2="35.40" stroke="#101010" stroke-width="1.7" />
<line x1="334.20" y1="49.70" x2="349.00" y2="49.70" stroke="#587A44" stroke-width="1.7" />
<line x1="334.20" y1="64.30" x2="349.00" y2="64.30" stroke="#C80000" stroke-width="1.7" />
<line x1="334.20" y1="79.00" x2="349.00" y2="79.00" stroke="#2E4A85" stroke-width="1.7" />
<text transform="translate(353.70,24.10) scale(1,1.04)" font-size="10.4" text-anchor="start" font-weight="normal" fill="#000" >Unmodified</text>
<text transform="translate(353.70,38.80) scale(1,1.04)" font-size="10.4" text-anchor="start" font-weight="normal" fill="#000" >Initiator modified</text>
<text transform="translate(353.8,53.2) scale(1,1.04)" font-size="10.37">P(NIPAAm-<tspan font-style="italic">co</tspan>-AMPS-<tspan font-style="italic">co</tspan>-PhAAm)</text>
<text transform="translate(353.8,67.6) scale(1,1.04)" font-size="10.37">P(NIPAAm-<tspan font-style="italic">co</tspan>-AMPS-<tspan font-style="italic">co</tspan>-BMA)</text>
<text transform="translate(353.8,82.2) scale(1,1.04)" font-size="10.37">P(NIPAAm-<tspan font-style="italic">co</tspan>-AMPS-<tspan font-style="italic">co</tspan>-tBAAm)</text>
<rect x="466.2" y="175.1" width="190.2" height="135.3" fill="none" stroke="#333333" stroke-width="1"/>
<text transform="translate(455.20,179.30) scale(1,1.08)" font-size="11.0" text-anchor="end" font-weight="normal" fill="#000" >0</text>
<line x1="466.20" y1="197.50" x2="468.20" y2="197.50" stroke="#333333" stroke-width="1" />
<text transform="translate(455.20,201.85) scale(1,1.08)" font-size="11.0" text-anchor="end" font-weight="normal" fill="#000" >-10</text>
<line x1="466.20" y1="220.50" x2="468.20" y2="220.50" stroke="#333333" stroke-width="1" />
<text transform="translate(455.20,224.40) scale(1,1.08)" font-size="11.0" text-anchor="end" font-weight="normal" fill="#000" >-20</text>
<line x1="466.20" y1="242.50" x2="468.20" y2="242.50" stroke="#333333" stroke-width="1" />
<text transform="translate(455.20,246.95) scale(1,1.08)" font-size="11.0" text-anchor="end" font-weight="normal" fill="#000" >-30</text>
<line x1="466.20" y1="265.50" x2="468.20" y2="265.50" stroke="#333333" stroke-width="1" />
<text transform="translate(455.20,269.50) scale(1,1.08)" font-size="11.0" text-anchor="end" font-weight="normal" fill="#000" >-40</text>
<line x1="466.20" y1="287.50" x2="468.20" y2="287.50" stroke="#333333" stroke-width="1" />
<text transform="translate(455.20,292.05) scale(1,1.08)" font-size="11.0" text-anchor="end" font-weight="normal" fill="#000" >-50</text>
<text transform="translate(455.20,314.60) scale(1,1.08)" font-size="11.0" text-anchor="end" font-weight="normal" fill="#000" >-60</text>
<text transform="translate(466.00,328.00) scale(1,1.08)" font-size="11.0" text-anchor="middle" font-weight="normal" fill="#000" >0</text>
<line x1="497.50" y1="310.40" x2="497.50" y2="307.40" stroke="#333333" stroke-width="1" />
<text transform="translate(497.75,328.00) scale(1,1.08)" font-size="11.0" text-anchor="middle" font-weight="normal" fill="#000" >10</text>
<line x1="529.50" y1="310.40" x2="529.50" y2="307.40" stroke="#333333" stroke-width="1" />
<text transform="translate(529.50,328.00) scale(1,1.08)" font-size="11.0" text-anchor="middle" font-weight="normal" fill="#000" >20</text>
<line x1="561.50" y1="310.40" x2="561.50" y2="307.40" stroke="#333333" stroke-width="1" />
<text transform="translate(561.25,328.00) scale(1,1.08)" font-size="11.0" text-anchor="middle" font-weight="normal" fill="#000" >30</text>
<line x1="593.50" y1="310.40" x2="593.50" y2="307.40" stroke="#333333" stroke-width="1" />
<text transform="translate(593.00,328.00) scale(1,1.08)" font-size="11.0" text-anchor="middle" font-weight="normal" fill="#000" >40</text>
<line x1="624.50" y1="310.40" x2="624.50" y2="307.40" stroke="#333333" stroke-width="1" />
<text transform="translate(624.75,328.00) scale(1,1.08)" font-size="11.0" text-anchor="middle" font-weight="normal" fill="#000" >50</text>
<text transform="translate(656.50,328.00) scale(1,1.08)" font-size="11.0" text-anchor="middle" font-weight="normal" fill="#000" >60</text>
<text transform="translate(430.30,237.80) rotate(-90) scale(1,1.04)" font-size="11.6" text-anchor="middle">Zeta potential (mV)</text>
<text transform="translate(523.0,343.6) scale(1,1.05)" font-size="11.35">Temperature<tspan dx="5.0">(</tspan><tspan dx="1.1">C</tspan><tspan dx="2.3">)</tspan></text>
<circle cx="595.00" cy="336.30" r="1.1" fill="none" stroke="#000" stroke-width="0.75"/>
<text transform="translate(427.40,135.60) scale(1,1.12)" font-size="14.0" text-anchor="start" font-weight="bold" fill="#000" >(C)</text>
<line x1="561.25" y1="258.20" x2="561.25" y2="267.50" stroke="#606060" stroke-width="0.8" />
<line x1="559.25" y1="258.20" x2="563.25" y2="258.20" stroke="#606060" stroke-width="0.8" />
<line x1="559.25" y1="267.50" x2="563.25" y2="267.50" stroke="#606060" stroke-width="0.8" />
<line x1="593.00" y1="257.50" x2="593.00" y2="263.50" stroke="#606060" stroke-width="0.8" />
<line x1="591.00" y1="257.50" x2="595.00" y2="257.50" stroke="#606060" stroke-width="0.8" />
<line x1="591.00" y1="263.50" x2="595.00" y2="263.50" stroke="#606060" stroke-width="0.8" />
<line x1="624.75" y1="256.30" x2="624.75" y2="271.20" stroke="#606060" stroke-width="0.8" />
<line x1="622.75" y1="256.30" x2="626.75" y2="256.30" stroke="#606060" stroke-width="0.8" />
<line x1="622.75" y1="271.20" x2="626.75" y2="271.20" stroke="#606060" stroke-width="0.8" />
<line x1="624.75" y1="281.50" x2="624.75" y2="290.50" stroke="#606060" stroke-width="0.8" />
<line x1="622.75" y1="281.50" x2="626.75" y2="281.50" stroke="#606060" stroke-width="0.8" />
<line x1="622.75" y1="290.50" x2="626.75" y2="290.50" stroke="#606060" stroke-width="0.8" />
<line x1="593.00" y1="273.40" x2="593.00" y2="279.50" stroke="#606060" stroke-width="0.8" />
<line x1="591.00" y1="273.40" x2="595.00" y2="273.40" stroke="#606060" stroke-width="0.8" />
<line x1="591.00" y1="279.50" x2="595.00" y2="279.50" stroke="#606060" stroke-width="0.8" />
<line x1="529.50" y1="231.00" x2="529.50" y2="237.00" stroke="#606060" stroke-width="0.8" />
<line x1="527.50" y1="231.00" x2="531.50" y2="231.00" stroke="#606060" stroke-width="0.8" />
<line x1="527.50" y1="237.00" x2="531.50" y2="237.00" stroke="#606060" stroke-width="0.8" />
<line x1="561.25" y1="270.50" x2="561.25" y2="275.00" stroke="#606060" stroke-width="0.8" />
<line x1="559.25" y1="270.50" x2="563.25" y2="270.50" stroke="#606060" stroke-width="0.8" />
<line x1="559.25" y1="275.00" x2="563.25" y2="275.00" stroke="#606060" stroke-width="0.8" />
<polyline points="497.8,177.4 529.5,182.3 561.2,179.3 593.0,193.4 624.8,190.5" fill="none" stroke="#F4B183" stroke-width="1.1" stroke-linejoin="round" stroke-linecap="round" />
<polyline points="497.8,204.6 529.5,219.5 561.2,230.3 593.0,245.2 624.8,263.0" fill="none" stroke="#D42020" stroke-width="1.1" stroke-linejoin="round" stroke-linecap="round" />
<polyline points="497.8,212.8 529.5,234.0 561.2,263.0 593.0,260.4 624.8,264.1" fill="none" stroke="#4A7232" stroke-width="1.1" stroke-linejoin="round" stroke-linecap="round" />
<polyline points="497.8,252.6 529.5,263.8 561.2,272.7 593.0,276.4 624.8,286.1" fill="none" stroke="#2A4585" stroke-width="1.1" stroke-linejoin="round" stroke-linecap="round" />
<rect x="495.05" y="174.70" width="5.40" height="5.40" fill="#F5B08A"/>
<rect x="526.80" y="179.60" width="5.40" height="5.40" fill="#F5B08A"/>
<rect x="558.55" y="176.60" width="5.40" height="5.40" fill="#F5B08A"/>
<rect x="590.30" y="190.70" width="5.40" height="5.40" fill="#F5B08A"/>
<rect x="622.05" y="187.80" width="5.40" height="5.40" fill="#F5B08A"/>
<circle cx="497.75" cy="204.60" r="3.5" fill="#CC0000"/>
<circle cx="529.50" cy="219.50" r="3.5" fill="#CC0000"/>
<circle cx="561.25" cy="230.30" r="3.5" fill="#CC0000"/>
<circle cx="593.00" cy="245.20" r="3.5" fill="#CC0000"/>
<circle cx="624.75" cy="263.00" r="3.5" fill="#CC0000"/>
<path d="M497.75,208.70L501.85,212.80L497.75,216.90L493.65,212.80Z" fill="#3B6226"/>
<path d="M529.50,229.90L533.60,234.00L529.50,238.10L525.40,234.00Z" fill="#3B6226"/>
<path d="M561.25,258.90L565.35,263.00L561.25,267.10L557.15,263.00Z" fill="#3B6226"/>
<path d="M593.00,256.30L597.10,260.40L593.00,264.50L588.90,260.40Z" fill="#3B6226"/>
<path d="M624.75,260.00L628.85,264.10L624.75,268.20L620.65,264.10Z" fill="#3B6226"/>
<path d="M497.75,248.93L501.65,255.73L493.85,255.73Z" fill="#1F3A78"/>
<path d="M529.50,260.13L533.40,266.93L525.60,266.93Z" fill="#1F3A78"/>
<path d="M561.25,269.03L565.15,275.83L557.35,275.83Z" fill="#1F3A78"/>
<path d="M593.00,272.73L596.90,279.53L589.10,279.53Z" fill="#1F3A78"/>
<path d="M624.75,282.43L628.65,289.23L620.85,289.23Z" fill="#1F3A78"/>
<rect x="486.6" y="104.4" width="172.1" height="62.4" fill="#fff" stroke="#333333" stroke-width="1"/>
<path d="M493.60,108.60L497.60,112.60L493.60,116.60L489.60,112.60Z" fill="#3B6226"/>
<circle cx="493.60" cy="127.70" r="3.4" fill="#CC0000"/>
<path d="M493.60,137.70L498.00,145.30L489.20,145.30Z" fill="#1F3A78"/>
<rect x="490.10" y="153.10" width="7.00" height="7.00" fill="#F5B08A"/>
<text transform="translate(501.7,116.3) scale(1,1.04)" font-size="10.45">P(NIPAAm-<tspan font-style="italic">co</tspan>-AMPS-<tspan font-style="italic">co</tspan>-PhAAm)</text>
<text transform="translate(501.7,131.2) scale(1,1.04)" font-size="10.45">P(NIPAAm-<tspan font-style="italic">co</tspan>-AMPS-<tspan font-style="italic">co</tspan>-BMA)</text>
<text transform="translate(501.7,145.9) scale(1,1.04)" font-size="10.45">P(NIPAAm-<tspan font-style="italic">co</tspan>-AMPS-<tspan font-style="italic">co</tspan>-tBAAm)</text>
<text transform="translate(501.70,160.30) scale(1,1.04)" font-size="10.45" text-anchor="start" font-weight="normal" fill="#000" >PNIPAAm</text>
</svg>
</body></html>
